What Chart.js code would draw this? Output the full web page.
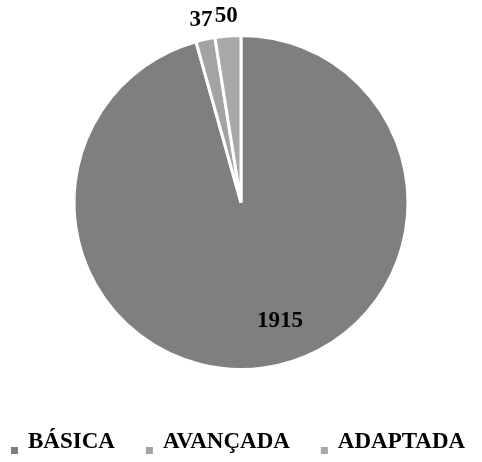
<!DOCTYPE html>
<html>
<head>
<meta charset="utf-8">
<script src="https://cdn.jsdelivr.net/npm/chart.js@4/dist/chart.umd.min.js"></script>
<style>
  html, body { margin: 0; padding: 0; background: #fff; }
  #wrap { width: 482px; height: 462px; }
</style>
</head>
<body>
<div id="wrap"><canvas id="my-chart"></canvas></div>
<script>
var categories = ['BÁSICA', 'AVANÇADA', 'ADAPTADA'];
var counts = [1915, 37, 50];
var colors = ['#7f7f7f', '#a3a3a3', '#a8a8a8'];

var FONT = 'bold 23px "Liberation Serif"';

// value labels: small slices outside, big slice inside
var valueLabels = {
    id: 'valueLabels',
    afterDatasetsDraw: function (chart) {
        var ctx = chart.ctx;
        var meta = chart.getDatasetMeta(0);
        var total = counts.reduce(function (a, b) { return a + b; }, 0);
        ctx.save();
        ctx.font = FONT;
        ctx.fillStyle = '#000';
        ctx.textAlign = 'center';
        ctx.textBaseline = 'middle';
        meta.data.forEach(function (arc, i) {
            var p = arc.getProps(['x', 'y', 'startAngle', 'endAngle', 'outerRadius']);
            var ang, r;
            if (counts[i] / total > 0.5) {
                ang = p.startAngle + (p.endAngle - p.startAngle) * 0.47;
                r = p.outerRadius * 0.75;
            } else {
                ang = (p.startAngle + p.endAngle) / 2;
                r = p.outerRadius + 20;
            }
            ctx.fillText(String(counts[i]), p.x + Math.cos(ang) * r, p.y + Math.sin(ang) * r);
        });
        ctx.restore();
    }
};

// legend along the bottom: small square low beside each name
var bottomLegend = {
    id: 'bottomLegend',
    afterDraw: function (chart) {
        var ctx = chart.ctx;
        ctx.save();
        ctx.font = FONT;
        ctx.textBaseline = 'alphabetic';
        var widths = categories.map(function (c) { return ctx.measureText(c).width; });
        var box = 7, gap = 10, spacing = 31;
        var total = 0;
        widths.forEach(function (w, i) { total += box + gap + w + (i ? spacing : 0); });
        var x = Math.round((chart.width - total) / 2) - 3;
        var baseline = 448;
        categories.forEach(function (c, i) {
            ctx.fillStyle = colors[i];
            ctx.fillRect(x, baseline - 1, box, box);
            ctx.fillStyle = '#000';
            ctx.fillText(c, x + box + gap, baseline);
            x += box + gap + widths[i] + spacing;
        });
        ctx.restore();
    }
};

var ctx = document.getElementById('my-chart');

var myChart = new Chart(ctx, {
    type: 'pie',
    data: {
        labels: categories,
        datasets: [{
            data: counts,
            backgroundColor: colors,
            borderColor: '#ffffff',
            borderWidth: 3,
            radius: 167
        }]
    },
    options: {
        responsive: true,
        maintainAspectRatio: false,
        animation: false,
        layout: { padding: { top: 5, bottom: 62 } },
        plugins: {
            tooltip: { enabled: false },
            legend: { display: false }
        }
    },
    plugins: [valueLabels, bottomLegend]
});
</script>
</body>
</html>
